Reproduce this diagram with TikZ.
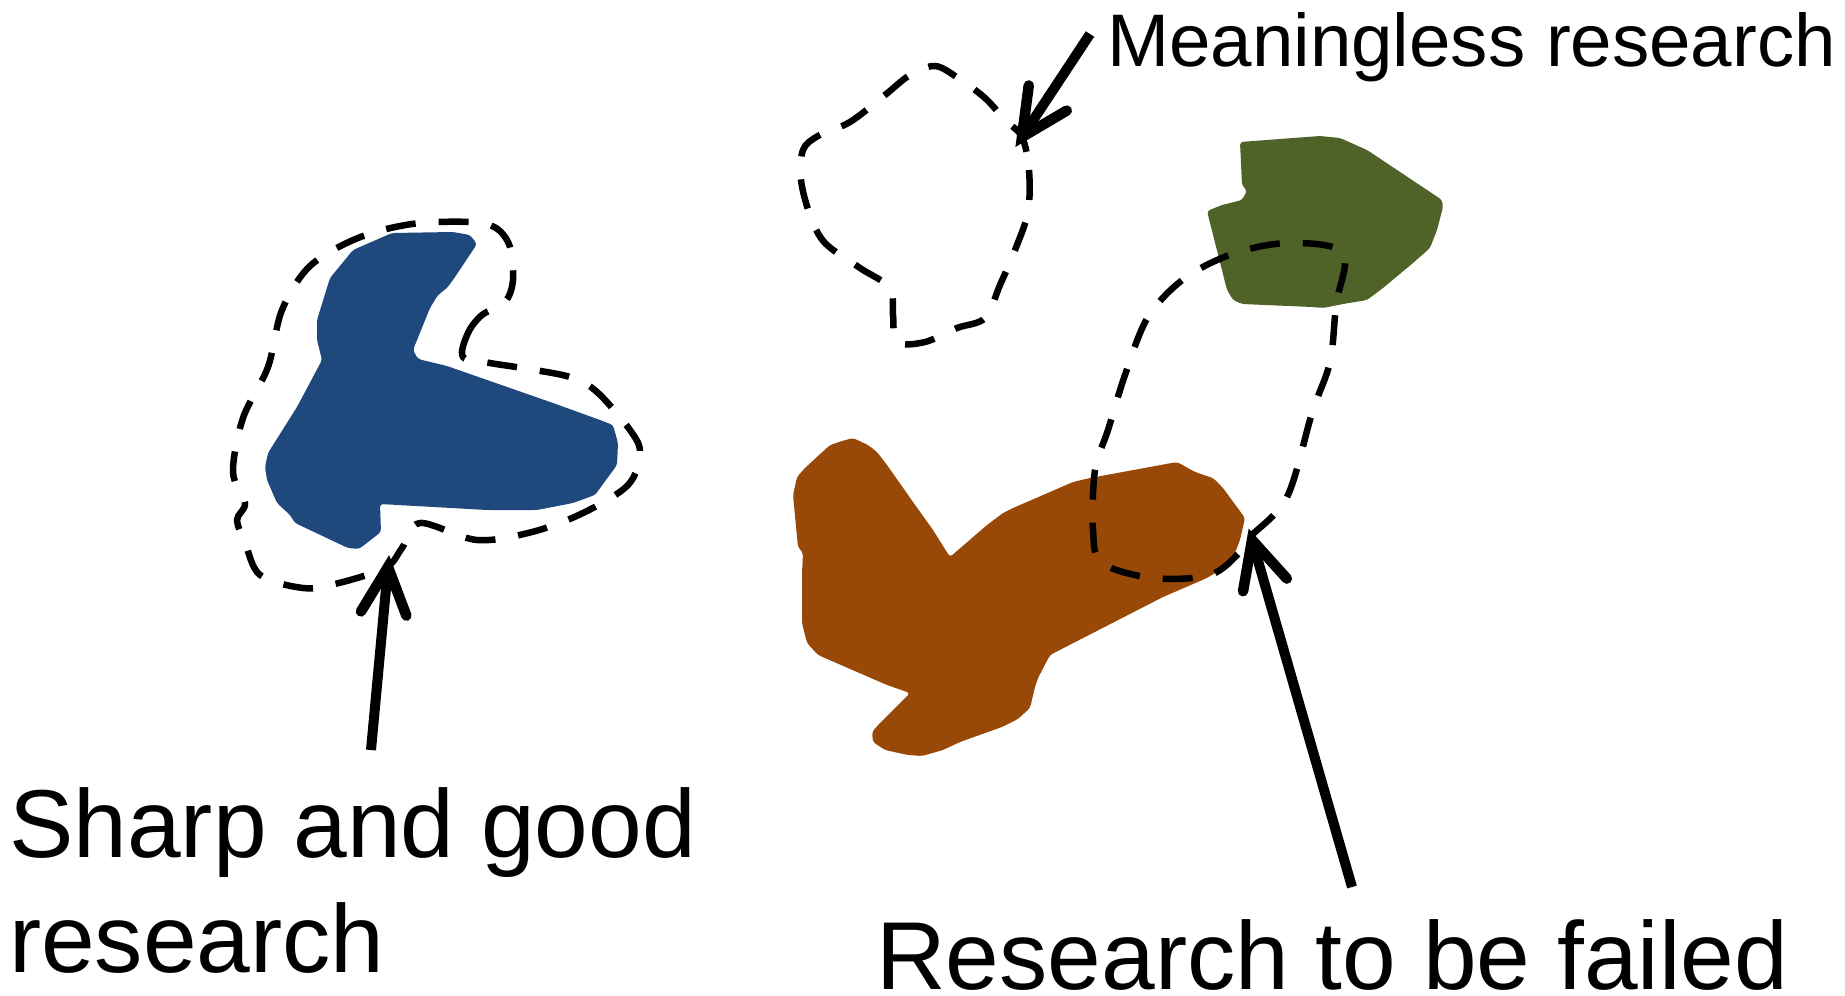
\documentclass[tikz,border=0pt]{standalone}
\usepackage{fontspec}
\setmainfont{Liberation Sans}
\usetikzlibrary{calc}

\definecolor{blueblob}{HTML}{1F497D}
\definecolor{greenblob}{HTML}{4F6228}
\definecolor{brownblob}{HTML}{984807}

\tikzset{
  blob/.style={draw=none, rounded corners=3pt},
  outline/.style={line width=6.5pt, dash pattern=on 30pt off 23pt},
  shaft/.style={line width=10pt},
  barb/.style={line width=10.5pt, line cap=round, line join=miter},
  caption/.style={inner sep=0pt, font=\fontsize{96.5}{115}\selectfont, anchor=base west, align=left},
  smallcaption/.style={inner sep=0pt, font=\fontsize{74.5}{90}\selectfont, anchor=base west}
}

\begin{document}
\begin{tikzpicture}[x=1pt,y=-1pt]
\useasboundingbox (0,0) rectangle (1845,996);

% ---- the sharp, well-defined research area (blue) ----
\fill[blueblob, blob] (330,278) -- (353,250) -- (392,233) -- (453,232) -- (470,235) -- (477,244)
  -- (453,280) -- (447,288) -- (438,295) -- (430,308) -- (413,350) -- (418,359) -- (447,366)
  -- (553,403) -- (600,420) -- (613,425) -- (618,443) -- (617,465) -- (595,495) -- (573,503)
  -- (537,510) -- (487,510) -- (380,504) -- (381,532) -- (359,549) -- (348,548) -- (295,523)
  -- (290,515) -- (277,503) -- (267,480) -- (265,467) -- (268,453) -- (297,407) -- (322,360)
  -- (317,340) -- (317,320) -- cycle;

% ---- the large area (brown) ----
\fill[brownblob, blob] (853,438) -- (868,445) -- (877,452) -- (887,465) -- (913,502) -- (933,530)
  -- (950,557) -- (987,525) -- (1003,513) -- (1013,508) -- (1073,482) -- (1090,478) -- (1177,462)
  -- (1195,472) -- (1213,478) -- (1223,488) -- (1245,518) -- (1240,540) -- (1235,553) -- (1220,570)
  -- (1207,578) -- (1163,597) -- (1050,655) -- (1038,678) -- (1035,687) -- (1030,708) -- (1018,719)
  -- (1002,727) -- (960,742) -- (943,750) -- (922,756) -- (908,755) -- (885,750) -- (873,742)
  -- (872,732) -- (880,723) -- (910,693) -- (887,685) -- (818,655) -- (807,643) -- (802,623)
  -- (802,573) -- (803,553) -- (798,547) -- (797,537) -- (793,495) -- (797,477) -- (805,468)
  -- (830,445) -- (842,441) -- cycle;

% ---- the small area (green) ----
\fill[greenblob, blob] (1240,142) -- (1320,136) -- (1340,138) -- (1367,150) -- (1442,200)
  -- (1443,207) -- (1437,230) -- (1430,248) -- (1413,263) -- (1383,288) -- (1367,300)
  -- (1343,304) -- (1323,308) -- (1312,307) -- (1242,304) -- (1233,300) -- (1227,290)
  -- (1207,211) -- (1222,205) -- (1242,200) -- (1247,191) -- (1242,185) -- cycle;

% ---- dashed research boundaries ----
\draw[outline] plot[smooth cycle, tension=0.55] coordinates {
  (463,357) (468,333) (482,315) (505,302) (513,280) (510,247) (496,228) (470,222)
  (412,224) (358,238) (310,266) (282,310) (268,367) (243,418) (233,472) (245,503)
  (237,520) (245,542) (260,575) (303,588) (335,584) (385,568) (402,548) (420,523)
  (477,540) (532,532) (583,513) (628,485) (640,453) (630,430) (597,392) (570,377)
  (522,368) (490,363)};

\draw[outline] plot[smooth cycle, tension=0.55] coordinates {
  (1022,137) (1029,170) (1028,212) (1015,250) (1000,285) (985,318) (957,328) (925,342)
  (897,342) (893,315) (890,288) (860,268) (825,243) (810,215) (801,180) (803,150)
  (818,136) (850,122) (885,95) (910,75) (935,66) (958,78) (985,98) (1005,120)};

\draw[outline] plot[smooth cycle, tension=0.55] coordinates {
  (1250,537) (1287,497) (1312,413) (1330,362) (1336,305) (1343,253) (1290,243)
  (1235,253) (1185,278) (1148,317) (1125,375) (1108,430) (1095,470) (1093,530)
  (1102,563) (1153,578) (1210,575) (1240,552)};

% ---- captions (base west of a two-line node is the last line's baseline) ----
\node[caption] (good) at (9,972) {Sharp and good\\research};
\node[caption] (failed) at (876,989) {Research to be failed};
\node[smallcaption] (meaningless) at (1107,66) {Meaningless research};

% ---- pointers ----
\coordinate (tipA) at (388,567);
\coordinate (tailA) at (371,750);
\coordinate (tipB) at (1252,540);
\coordinate (tailB) at (1352,887);
\coordinate (tipC) at (1022,137);
\coordinate (tailC) at (1090,34);

\foreach \t/\s in {tipA/tailA, tipB/tailB, tipC/tailC}{
  \draw[shaft] (\s) -- (\t);
  \draw[barb] ($(\t)!52pt!26:(\s)$) -- (\t) -- ($(\t)!52pt!-26:(\s)$);
}
\end{tikzpicture}
\end{document}
